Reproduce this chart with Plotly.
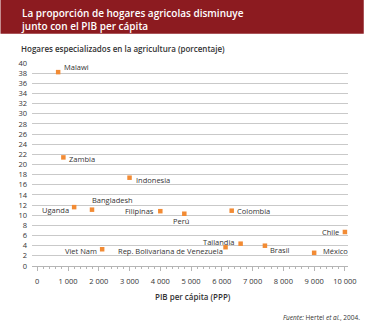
import plotly.graph_objects as go

# Country data: GDP per capita (PPP) and share of agricultural households (%)
countries = ["Malawi", "Zambia", "Indonesia", "Uganda", "Bangladesh", "Viet Nam",
             "Filipinas", "Perú", "Colombia", "Rep. Bolivariana de Venezuela",
             "Tailandia", "Brasil", "México", "Chile"]
pib = [680, 850, 3000, 1200, 1780, 2110, 4000, 4780, 6320, 6120, 6610, 7400, 9000, 10000]
hogares = [38.2, 21.4, 17.4, 11.6, 11.1, 3.3, 10.8, 10.3, 10.9, 3.7, 4.4, 4.0, 2.6, 6.7]

x_ticks = [0, 1000, 2000, 3000, 4000, 5000, 6000, 7000, 8000, 9000, 10000]
x_ticktext = ["0", "1 000", "2 000", "3 000", "4 000", "5 000", "6 000",
              "7 000", "8 000", "9 000", "10 000"]
y_ticks = list(range(0, 41, 2))

# Label placement for each country: (xanchor, xshift px, yshift px)
label_place = {
    "Malawi": ("left", 3.5, 5),
    "Zambia": ("left", 4, -2),
    "Indonesia": ("left", 4.5, -2.5),
    "Uganda": ("right", -3.5, -3),
    "Bangladesh": ("left", -2, 10),
    "Viet Nam": ("right", -3, -1.5),
    "Filipinas": ("right", -4, 0),
    "Perú": ("center", -3.5, -7.5),
    "Colombia": ("left", 3.5, 0),
    "Rep. Bolivariana de Venezuela": ("right", -0.5, -4),
    "Tailandia": ("right", -3.5, 1.5),
    "Brasil": ("left", 3, -4.5),
    "México": ("left", 7, 2),
    "Chile": ("right", -3.5, 0),
}

W, H = 369, 322
L, R, T, B = 32, 16, 63, 56
PW, PH = W - L - R, H - T - B


def px_x(px):
    return (px - L) / PW


def px_y(py):
    return (H - B - py) / PH


FONT = "Open Sans"
ORANGE = "#F28B34"
DARK_RED = "#8C1B20"
TEXT = "#333333"
GRID = "#c9c9c9"

fig = go.Figure()
fig.add_trace(go.Scatter(
    x=pib, y=hogares, mode="markers",
    marker=dict(symbol="square", size=4.5, color=ORANGE, line=dict(width=0)),
    cliponaxis=False, hoverinfo="skip", showlegend=False,
))

annotations = []
for name, xv, yv in zip(countries, pib, hogares):
    anchor, dx, dy = label_place[name]
    annotations.append(dict(
        x=xv, y=yv, xref="x", yref="y", text=name, showarrow=False,
        xanchor=anchor, yanchor="middle", xshift=dx, yshift=dy,
        font=dict(family=FONT, size=7.5, color=TEXT),
    ))

# Heading inside the red band
annotations.append(dict(
    x=px_x(19), y=px_y(19), xref="paper", yref="paper",
    text="La proporción de hogares agricolas disminuye<br>junto con el PIB per cápita",
    showarrow=False, xanchor="left", yanchor="middle", align="left",
    font=dict(family=FONT, size=10, color="white", weight=600),
))
# Y-axis title
annotations.append(dict(
    x=px_x(19), y=px_y(48.5), xref="paper", yref="paper",
    text="Hogares especializados en la agricultura (porcentaje)",
    showarrow=False, xanchor="left", yanchor="middle",
    font=dict(family=FONT, size=8, color=TEXT, weight=600),
))
# X-axis title
annotations.append(dict(
    x=px_x(196), y=px_y(296), xref="paper", yref="paper",
    text="PIB per cápita (PPP)",
    showarrow=False, xanchor="center", yanchor="middle",
    font=dict(family=FONT, size=8, color=TEXT, weight=600),
))
# Source note
annotations.append(dict(
    x=px_x(367), y=px_y(317), xref="paper", yref="paper",
    text="<i>Fuente:</i> Hertel <i>et al.</i>, 2004.",
    showarrow=False, xanchor="right", yanchor="middle",
    font=dict(family=FONT, size=6.5, color=TEXT),
))

fig.update_layout(
    width=W, height=H,
    margin=dict(l=L, r=R, t=T, b=B, pad=0),
    paper_bgcolor="white", plot_bgcolor="white",
    annotations=annotations,
    shapes=[dict(
        type="rect", xref="paper", yref="paper",
        x0=px_x(0), x1=px_x(W), y0=px_y(33.7), y1=px_y(0),
        fillcolor=DARK_RED, line=dict(width=0), layer="below",
    )],
    xaxis=dict(
        range=[-170, 10100], tickmode="array", tickvals=x_ticks, ticktext=x_ticktext,
        showgrid=False, zeroline=False, showline=True, linecolor="#b5b5b5", linewidth=1,
        ticks="outside", ticklen=4, tickcolor="#b5b5b5", tickwidth=1,
        minor=dict(dtick=200, ticks="outside", ticklen=2, tickcolor="#b5b5b5", showgrid=False),
        tickfont=dict(family=FONT, size=7.5, color=TEXT),
        ticklabelstandoff=4, fixedrange=True,
    ),
    yaxis=dict(
        range=[0, 40], tickmode="array", tickvals=y_ticks,
        showgrid=True, gridcolor=GRID, gridwidth=1, zeroline=False, showline=False,
        ticks="", tickfont=dict(family=FONT, size=7.5, color=TEXT),
        ticklabelstandoff=4, fixedrange=True,
    ),
)

fig.write_html("out.html", config={"displayModeBar": False})
